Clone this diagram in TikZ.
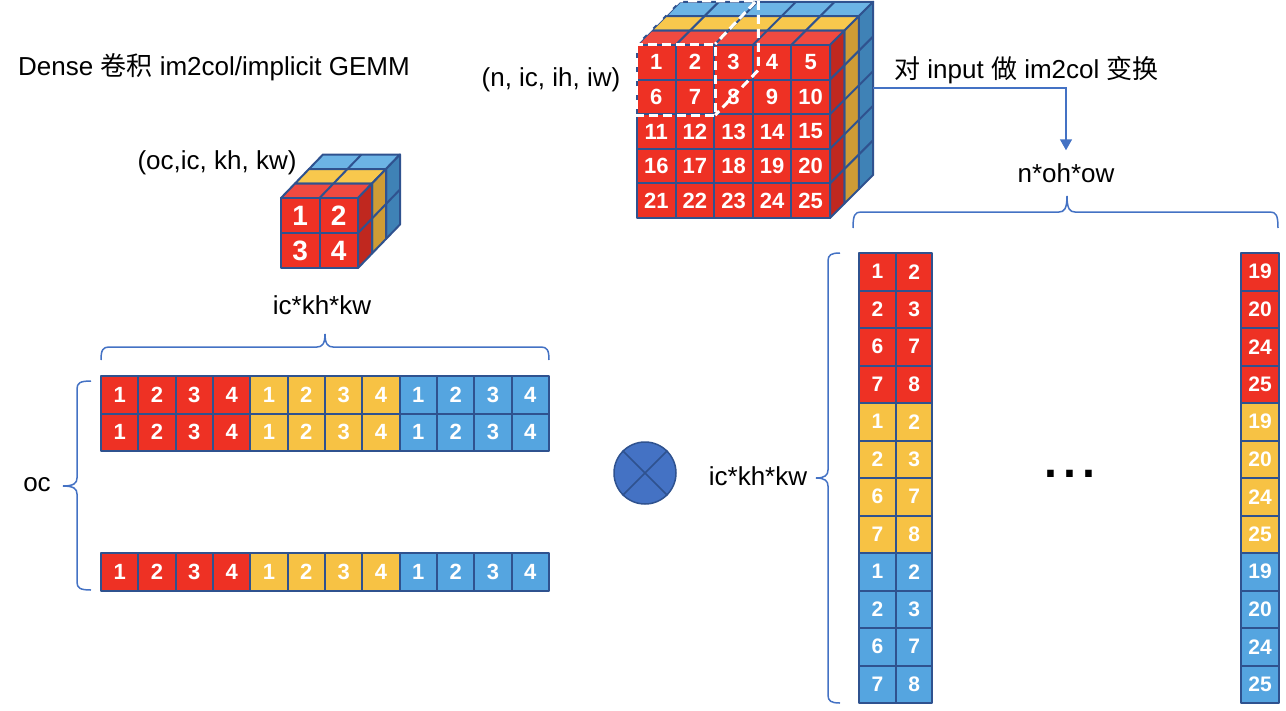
\documentclass[tikz,border=0pt]{standalone}
\usepackage{fontspec}
\setmainfont{Liberation Sans}
\newfontfamily\cjk{Noto Sans CJK SC}
\usetikzlibrary{arrows.meta}
\definecolor{cred}{HTML}{EE3124}
\definecolor{credtop}{HTML}{F04A40}
\definecolor{credside}{HTML}{C0281F}
\definecolor{cyel}{HTML}{F7C244}
\definecolor{cyeltop}{HTML}{F8C84D}
\definecolor{cyelside}{HTML}{CF9C35}
\definecolor{cblu}{HTML}{55A5E0}
\definecolor{cblutop}{HTML}{6CB4E5}
\definecolor{cbluside}{HTML}{3F82B6}
\definecolor{rimblue}{HTML}{2F528F}
\definecolor{linkblue}{HTML}{4472C4}
\newcommand{\hcurly}[5]{% left x, tip x, right x, flat y, depth
  \draw[curly] (#1,#4+#5) .. controls (#1,#4+3) and (#1+2,#4) .. (#1+8,#4)
    -- (#2-8,#4) .. controls (#2-3,#4) and (#2,#4-3) .. (#2,#4-#5)
    .. controls (#2,#4-3) and (#2+3,#4) .. (#2+8,#4)
    -- (#3-8,#4) .. controls (#3-2,#4) and (#3,#4+3) .. (#3,#4+#5);}
\newcommand{\vcurly}[5]{% flat x, top y, tip y, bottom y, depth
  \draw[curly] (#1+#5,#2) .. controls (#1+3,#2) and (#1,#2+2) .. (#1,#2+8)
    -- (#1,#3-8) .. controls (#1,#3-3) and (#1-3,#3) .. (#1-#5,#3)
    .. controls (#1-3,#3) and (#1,#3+3) .. (#1,#3+8)
    -- (#1,#4-8) .. controls (#1,#4-2) and (#1+3,#4) .. (#1+#5,#4);}

\begin{document}
\begin{tikzpicture}[x=1pt, y=-1pt,
    rim/.style={draw=rimblue, line width=2pt, line join=round},
    tile/.style={rim, inner sep=0pt, text=white, minimum width=37.33pt, minimum height=37.5pt, font=\fontsize{22}{22}\selectfont\bfseries},
    txt/.style={inner sep=1pt, font=\fontsize{26}{30}\selectfont},
    curly/.style={draw=linkblue, line width=1.5pt},
    window/.style={draw=white, line width=3pt, dash pattern=on 9pt off 5pt}]
  \useasboundingbox (0,0) rectangle (1286,710);
  \node[txt, anchor=west] (title) at (17,67) {Dense {\cjk 卷积} im2col/implicit GEMM};

  % kernel
  \node[txt] (kshape) at (217,163) {(oc,ic, kh, kw)};
  \foreach \k/\ctop/\cside in {2/cblutop/cbluside, 1/cyeltop/cyelside, 0/credtop/credside}{
    \begin{scope}[shift={(14*\k,-14.5*\k)}]
      \filldraw[rim, fill=\ctop] (281,198) -- (358,198) -- (372,183.5) -- (295,183.5) -- cycle;
      \filldraw[rim, fill=\cside] (358,198) -- (372,183.5) -- (372,253.5) -- (358,268) -- cycle;
      \draw[rim] (319.5,198) -- (333.5,183.5) (358,233) -- (372,218.5);
    \end{scope}
  }
  \foreach \y in {0,1} \foreach \x in {0,1}{
    \pgfmathtruncatemacro\lab{2*\y+\x+1}
    \node[tile, fill=cred, minimum width=38.5pt, minimum height=35pt, font=\fontsize{28}{28}\selectfont\bfseries] (k\lab) at ({300.25+38.5*\x},{215.5+35*\y}) {\lab};
  }

  \node[txt] (kdim) at (322,305) {ic*kh*kw};
  \hcurly{101}{325}{549}{347}{13}
  \foreach \r/\yy in {1/394.75, 2/432.25, 3/571.75}
    \foreach \g/\cc in {0/cred, 1/cyel, 2/cblu}
      \foreach \x in {1,...,4}
        \node[tile, fill=\cc] (w\r-\g-\x) at ({82.33+37.33*(4*\g+\x)},\yy) {\x};
  \vcurly{77}{381}{486}{590}{14}
  \node[txt] (oc) at (37,485) {oc};

  \node[circle, draw=rimblue, line width=1.5pt, fill=linkblue, minimum size=62pt, inner sep=0pt] (prod) at (645,473) {};
  \draw[rimblue, line width=1.5pt] (prod.45) -- (prod.225) (prod.135) -- (prod.315);

  % input
  \node[txt] (inshape) at (551,80) {(n, ic, ih, iw)};
  \foreach \k/\ctop/\cside in {2/cblutop/cbluside, 1/cyeltop/cyelside, 0/credtop/credside}{
    \begin{scope}[shift={(14.4*\k,-14.4*\k)}]
      \filldraw[rim, fill=\ctop] (637,45) -- (830,45) -- (844.4,30.6) -- (651.4,30.6) -- cycle;
      \filldraw[rim, fill=\cside] (830,45) -- (844.4,30.6) -- (844.4,203.6) -- (830,218) -- cycle;
      \foreach \i in {1,...,4}
        \draw[rim] ({637+38.6*\i},45) -- ({651.4+38.6*\i},30.6) (830,{45+34.6*\i}) -- (844.4,{30.6+34.6*\i});
    \end{scope}
  }
  \foreach \y in {0,...,4} \foreach \x in {0,...,4}{
    \pgfmathtruncatemacro\lab{5*\y+\x+1}
    \node[tile, fill=cred, minimum width=38.6pt, minimum height=34.6pt] (in\lab) at ({656.3+38.6*\x},{62.3+34.6*\y}) {\lab};
  }
  \draw[window] (in1.north west) rectangle (in7.south east);
  \draw[window] (in1.north west) -- ++(43.2,-43.2) -- ++(77.2,0) -- (in2.north east);
  \draw[window] (in2.north east) ++(43.2,-43.2) -- ++(0,69.2) -- (in7.south east);

  \coordinate (inright) at (873.2,88);
  \node[txt, anchor=west] (im2col) at (893,70) {{\cjk 对} input {\cjk 做} im2col {\cjk 变换}};
  \node[txt] (nohow) at (1066,173) {n*oh*ow};
  \draw[linkblue, line width=1.5pt, -{Triangle[width=12pt,length=11pt]}] (inright) -| ([yshift=12pt]nohow.north);
  \hcurly{853}{1067}{1278}{212}{16}

  % im2col result
  \vcurly{828}{253}{478}{703}{12}
  \node[txt] (kdim2) at (758,476) {ic*kh*kw};
  \foreach \g/\cc in {0/cred, 1/cyel, 2/cblu}
    \foreach \i/\la/\lb/\lz in {0/1/2/19, 1/2/3/20, 2/6/7/24, 3/7/8/25}{
      \pgfmathsetmacro\yy{271.75+37.5*(4*\g+\i)}
      \node[tile, fill=\cc, minimum width=36.75pt, font=\fontsize{21}{21}\selectfont\bfseries] (ca\g\i) at (877.4,\yy) {\la};
      \node[tile, fill=\cc, minimum width=36.75pt, font=\fontsize{21}{21}\selectfont\bfseries] (cb\g\i) at (914.1,\yy) {\lb};
      \node[tile, fill=\cc, minimum width=38pt, font=\fontsize{21}{21}\selectfont\bfseries] (cz\g\i) at (1260,\yy) {\lz};
    }
  \node[font=\fontsize{68}{68}\selectfont, anchor=base, inner sep=0pt] (dots) at (1070,477) {...};
\end{tikzpicture}
\end{document}
